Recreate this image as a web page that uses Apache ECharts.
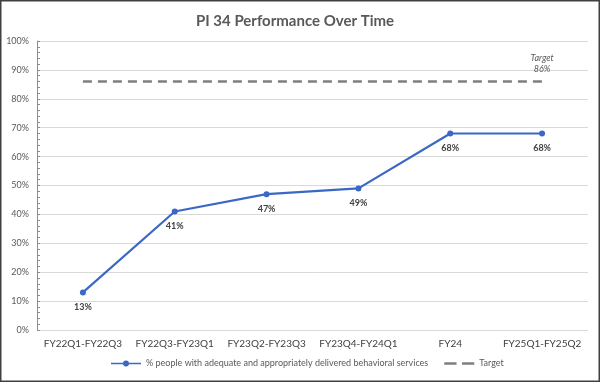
<!DOCTYPE html>
<html><head><meta charset="utf-8">
<script src="https://cdn.jsdelivr.net/npm/echarts@6/dist/echarts.min.js"></script>
<style>html,body{margin:0;padding:0;background:#fff}#c{width:600px;height:382px}</style>
</head><body><div id="c"></div>
<script>
const categories = ['FY22Q1-FY22Q3','FY22Q3-FY23Q1','FY23Q2-FY23Q3','FY23Q4-FY24Q1','FY24','FY25Q1-FY25Q2'];
const performance = [13, 41, 47, 49, 68, 68];
const target = [86, 86, 86, 86, 86, 86];
const seriesNames = ['% people with adequate and appropriately delivered behavioral services', 'Target'];
const FONT = 'Lato, "Open Sans", sans-serif';
const chart = echarts.init(document.getElementById('c'));
chart.setOption({
  animation: false,
  title: { text: 'PI 34 Performance Over Time', left: 290, textAlign: 'center', top: 9,
    textStyle: { fontFamily: FONT, fontSize: 15, fontWeight: 'bold', color: '#595959' } },
  graphic: [{ type: 'rect', shape: { x: 0.75, y: 0.75, width: 598.5, height: 380.5 },
    style: { fill: 'none', stroke: '#404040', lineWidth: 1.5 }, silent: true }],
  grid: { left: 37, right: 12, top: 41, bottom: 52 },
  legend: { bottom: 9, left: 106, itemGap: 16, itemWidth: 30, itemHeight: 6,
    textStyle: { fontFamily: FONT, fontSize: 9, color: '#595959' },
    data: [
      { name: seriesNames[0], icon: 'path://M0,4.2h30v1.6H0z M12,5a3,3 0 1,1 6,0a3,3 0 1,1 -6,0z', itemStyle: { color: '#3A68C4', opacity: 1, borderWidth: 0 } },
      { name: seriesNames[1], icon: 'path://M0,4h9v2H0z M13,4h9v2H13z', itemStyle: { color: '#7f7f7f', opacity: 1, borderWidth: 0 } }
    ] },
  xAxis: { type: 'category', data: categories, boundaryGap: true,
    axisLine: { show: false }, axisTick: { show: false },
    axisLabel: { interval: 0, fontFamily: FONT, fontSize: 10, color: '#404040', margin: 9 } },
  yAxis: { type: 'value', min: 0, max: 100, interval: 10,
    axisLine: { show: true, lineStyle: { color: '#8c8c8c', width: 1 } },
    axisTick: { show: true, inside: true, length: 3, lineStyle: { color: '#8c8c8c' } },
    minorTick: { show: true, splitNumber: 5, length: 3, lineStyle: { color: '#8c8c8c' } },
    splitLine: { lineStyle: { color: '#d9d9d9' } },
    axisLabel: { formatter: '{value}%', fontFamily: FONT, fontSize: 9, color: '#595959', margin: 8 } },
  series: [
    { name: seriesNames[0], type: 'line', data: performance, color: '#3A68C4',
      symbol: 'circle', symbolSize: 6, lineStyle: { width: 2.2, color: '#3A68C4' },
      itemStyle: { color: '#3A68C4' },
      label: { show: true, position: 'bottom', distance: 7, formatter: '{c}%',
        fontFamily: FONT, fontSize: 9, fontWeight: 'bold', color: '#404040' } },
    { name: seriesNames[1], type: 'line', data: target, color: '#7f7f7f',
      symbol: 'circle', symbolSize: 1, showSymbol: true, itemStyle: { color: 'rgba(0,0,0,0)', borderWidth: 0 },
      lineStyle: { width: 2.5, type: [9, 6], color: '#7f7f7f' },
      label: { show: true, position: 'top', distance: 6,
        formatter: p => p.dataIndex === target.length - 1 ? 'Target\n' + p.value + '%' : '',
        fontFamily: FONT, fontSize: 9, fontStyle: 'italic', color: '#595959', lineHeight: 11 } }
  ]
});
</script></body></html>
